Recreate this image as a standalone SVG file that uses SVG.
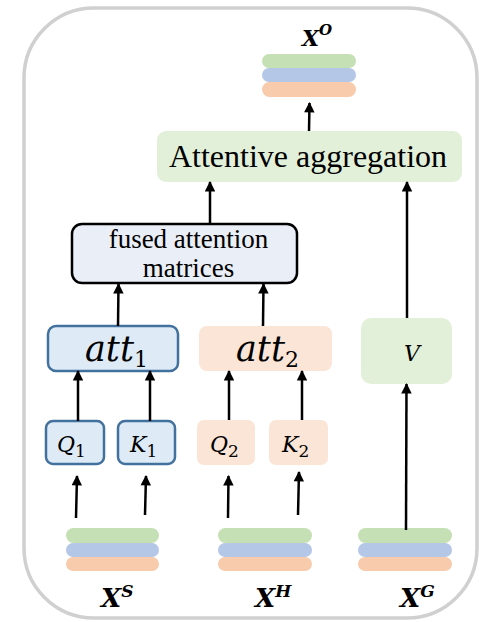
<svg xmlns="http://www.w3.org/2000/svg" width="479" height="622" viewBox="0 0 479 622">
  <style>
    .frame { fill: #ffffff; stroke: #d0d0d0; stroke-width: 3.5; }
    .green { fill: #c5e0b4; }
    .blue { fill: #b4c7e7; }
    .orange { fill: #f8cbad; }
    .boxG { fill: #e2f0d9; }
    .boxO { fill: #fbe5d6; }
    .boxB { fill: #deebf7; stroke: #41719c; stroke-width: 2.5; }
    .fused { fill: #e9eef7; stroke: #000000; stroke-width: 2.5; }
    .serif { font-family: "Liberation Serif", "Times New Roman", serif; fill: #000; }
    .math { font-family: "DejaVu Serif", "Liberation Serif", serif; font-style: italic; fill: #000; }
    .sub { font-style: normal; }
    .lbl { font-family: "DejaVu Serif", "Liberation Serif", serif; font-style: italic; font-weight: bold; fill: #000; }
    .arrow { stroke: #000; stroke-width: 2.5; fill: none; marker-end: url(#head); }
  </style>
  <defs>
    <marker id="head" viewBox="0 0 10 10" refX="9" refY="5" markerWidth="5" markerHeight="4.2" orient="auto" markerUnits="strokeWidth">
      <path d="M0,0 L10,5 L0,10 z" fill="#000"/>
    </marker>
  </defs>

  <!-- outer frame -->
  <rect class="frame" x="24" y="8" width="453" height="610" rx="70" ry="70"/>

  <!-- output stack -->
  <g id="stack-out">
    <rect class="orange" x="262" y="82" width="94" height="15" rx="7.5"/>
    <rect class="blue" x="262" y="68" width="94" height="14" rx="7"/>
    <rect class="green" x="262" y="54" width="94" height="14" rx="7"/>
    <text class="lbl" x="302" y="46" font-size="22">X<tspan font-size="15" dy="-11">O</tspan></text>
  </g>

  <g id="aggregation">
    <rect class="boxG" x="157" y="131" width="305" height="51" rx="9"/>
    <text class="serif" x="308" y="167" font-size="32" text-anchor="middle">Attentive aggregation</text>
  </g>

  <g id="fused">
    <rect class="fused" x="72" y="224" width="225" height="59" rx="10"/>
    <text class="serif" x="188.5" y="248" font-size="27" text-anchor="middle">fused attention</text>
    <text class="serif" x="188.5" y="277" font-size="27" text-anchor="middle">matrices</text>
  </g>

  <g id="att1">
    <rect class="boxB" x="48" y="326" width="130" height="45" rx="8"/>
    <text class="math" x="85" y="361" font-size="35">att<tspan class="sub" font-size="22" dy="6">1</tspan></text>
  </g>

  <g id="att2">
    <rect class="boxO" x="199" y="326" width="133" height="45" rx="8"/>
    <text class="math" x="236" y="361" font-size="35">att<tspan class="sub" font-size="22" dy="6">2</tspan></text>
  </g>

  <g id="v">
    <rect class="boxG" x="361" y="318" width="91" height="66" rx="10"/>
    <text class="math" x="404" y="361" font-size="22">V</text>
  </g>

  <g id="q1">
    <rect class="boxB" x="46" y="421" width="58" height="43" rx="7"/>
    <text class="math" x="57" y="452" font-size="22">Q<tspan class="sub" font-size="17" dy="5">1</tspan></text>
  </g>
  <g id="k1">
    <rect class="boxB" x="118" y="421" width="57" height="43" rx="7"/>
    <text class="math" x="130" y="452" font-size="22">K<tspan class="sub" font-size="17" dy="5">1</tspan></text>
  </g>
  <g id="q2">
    <rect class="boxO" x="197" y="420" width="58" height="45" rx="7"/>
    <text class="math" x="210" y="452" font-size="22">Q<tspan class="sub" font-size="17" dy="5">2</tspan></text>
  </g>
  <g id="k2">
    <rect class="boxO" x="269" y="420" width="59" height="45" rx="7"/>
    <text class="math" x="282" y="452" font-size="22">K<tspan class="sub" font-size="17" dy="5">2</tspan></text>
  </g>

  <!-- input stacks -->
  <g id="stack-s">
    <rect class="orange" x="66" y="557" width="93" height="14" rx="7"/>
    <rect class="blue" x="66" y="543" width="93" height="14" rx="7"/>
    <rect class="green" x="66" y="528" width="93" height="15" rx="7.5"/>
    <text class="lbl" x="101" y="607" font-size="26">X<tspan font-size="17" dy="-10">S</tspan></text>
  </g>
  <g id="stack-h">
    <rect class="orange" x="218" y="557" width="94" height="14" rx="7"/>
    <rect class="blue" x="218" y="543" width="94" height="14" rx="7"/>
    <rect class="green" x="218" y="528" width="94" height="15" rx="7.5"/>
    <text class="lbl" x="255" y="607" font-size="26">X<tspan font-size="17" dy="-10">H</tspan></text>
  </g>
  <g id="stack-g">
    <rect class="orange" x="358" y="557" width="94" height="14" rx="7"/>
    <rect class="blue" x="358" y="543" width="94" height="14" rx="7"/>
    <rect class="green" x="358" y="528" width="94" height="15" rx="7.5"/>
    <text class="lbl" x="400" y="607" font-size="26">X<tspan font-size="17" dy="-10">G</tspan></text>
  </g>

  <!-- connectors -->
  <g id="connectors">
    <line class="arrow" x1="309" y1="131" x2="309.5" y2="103"/>
    <line class="arrow" x1="407" y1="318" x2="407" y2="182"/>
    <line class="arrow" x1="210" y1="224" x2="210" y2="182"/>
    <line class="arrow" x1="118" y1="326" x2="118.5" y2="284"/>
    <line class="arrow" x1="263" y1="326" x2="263.5" y2="284"/>
    <line class="arrow" x1="78" y1="421" x2="78" y2="371"/>
    <line class="arrow" x1="150" y1="421" x2="150" y2="371"/>
    <line class="arrow" x1="229" y1="420" x2="229" y2="371"/>
    <line class="arrow" x1="302" y1="420" x2="302" y2="371"/>
    <line class="arrow" x1="76" y1="518" x2="77" y2="476"/>
    <line class="arrow" x1="145" y1="515" x2="146" y2="476"/>
    <line class="arrow" x1="228" y1="518" x2="228.5" y2="476"/>
    <line class="arrow" x1="298" y1="515" x2="299" y2="472"/>
    <line class="arrow" x1="406" y1="530" x2="406.5" y2="384"/>
  </g>
</svg>
